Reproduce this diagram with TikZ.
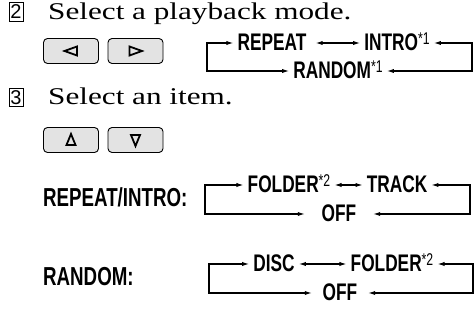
\documentclass[tikz,border=0pt]{standalone}
\usepackage{fontspec}
\setmainfont{Liberation Serif}[FakeStretch=1.3]
\newfontfamily\condfont{Liberation Sans}[FakeStretch=0.72]
\newfontfamily\numfont{Liberation Sans}
\usetikzlibrary{arrows.meta,calc}
\newcommand{\supnote}[1]{\raisebox{6pt}{\fontsize{17}{17}\selectfont\mdseries #1}}
\tikzset{
  item/.style={font=\condfont\bfseries\fontsize{24}{24}\selectfont, inner xsep=4pt, inner ysep=0pt, text height=14.3pt, text depth=0pt},
  lbl/.style={font=\condfont\bfseries\fontsize{26}{26}\selectfont, inner sep=0pt, text height=18.6pt, text depth=0pt, anchor=west},
  title/.style={font=\fontsize{24}{24}\selectfont, inner sep=0pt, anchor=base west},
  numbox/.style={draw, line width=0.5pt, minimum width=14pt, minimum height=18.5pt, inner sep=0pt, font=\numfont\fontsize{20}{20}\selectfont},
  btn/.style={draw, line width=0.9pt, rounded corners=4pt, fill=gray!22, minimum width=55pt, minimum height=25pt, inner sep=0pt},
  tri/.style={line width=1.8pt, line join=miter},
  conn/.style={line width=1.1pt, {Latex[length=7pt,width=4.2pt]}-{Latex[length=7pt,width=4.2pt]}}
}
\begin{document}
\begin{tikzpicture}[x=1pt,y=-1pt]
\useasboundingbox (0,0) rectangle (475,320);
% step 2
\node[numbox] (n2) at (16,12) {2};
\node[title] (t2) at (48,20) {Select a playback mode.};
\node[btn] (bl) at (71,51) {};
\node[btn] (br) at (135.5,51) {};
\draw[tri] ($(bl)+(-6.5,0)$) -- ($(bl)+(6,-4.5)$) -- ($(bl)+(6,4.5)$) -- cycle;
\draw[tri] ($(br)+(6.5,0)$) -- ($(br)+(-6,-4.5)$) -- ($(br)+(-6,4.5)$) -- cycle;
% diagram 1
\node[item] (rep) at (272,43) {REPEAT};
\node[item] (intro) at (397,43) {INTRO\supnote{*1}};
\node[item] (rnd) at (338,71) {RANDOM\supnote{*1}};
\coordinate (l1t) at (207,43);
\coordinate (l1b) at (207,71);
\coordinate (r1t) at (472,43);
\coordinate (r1b) at (472,71);
\draw[conn] (rep.west) -- (l1t) -- (l1b) -- (rnd.west);
\draw[conn] (intro.east) -- (r1t) -- (r1b) -- (rnd.east);
\draw[conn, shorten <=5pt] (rep.east) -- (intro.west);
% step 3
\node[numbox] (n3) at (16,97.5) {3};
\node[title] (t3) at (48,105) {Select an item.};
\node[btn] (bu) at (71,140) {};
\node[btn] (bd) at (135.5,140) {};
\draw[tri] ($(bu)+(0,-6)$) -- ($(bu)+(4.5,5)$) -- ($(bu)+(-4.5,5)$) -- cycle;
\draw[tri] ($(bd)+(0,6)$) -- ($(bd)+(4.5,-5)$) -- ($(bd)+(-4.5,-5)$) -- cycle;
% diagram 2
\node[lbl] (lri) at (43,197) {REPEAT/INTRO:};
\node[item] (fo1) at (289,185) {FOLDER\supnote{*2}};
\node[item] (trk) at (397,185) {TRACK};
\node[item, minimum width=68pt] (off1) at (339,214) {OFF};
\coordinate (l2t) at (205,185);
\coordinate (l2b) at (205,214);
\coordinate (r2t) at (470,185);
\coordinate (r2b) at (470,214);
\draw[conn] (fo1.west) -- (l2t) -- (l2b) -- (off1.west);
\draw[conn] (trk.east) -- (r2t) -- (r2b) -- (off1.east);
\draw[conn] (fo1.east) -- (trk.west);
% diagram 3
\node[lbl] (lrd) at (43,276) {RANDOM:};
\node[item] (disc) at (274,264) {DISC};
\node[item] (fo2) at (392,264) {FOLDER\supnote{*2}};
\node[item, minimum width=56pt] (off2) at (340,293) {OFF};
\coordinate (l3t) at (209,264);
\coordinate (l3b) at (209,293);
\coordinate (r3t) at (473,264);
\coordinate (r3b) at (473,293);
\draw[conn] (disc.west) -- (l3t) -- (l3b) -- (off2.west);
\draw[conn] (fo2.east) -- (r3t) -- (r3b) -- (off2.east);
\draw[conn] (disc.east) -- (fo2.west);
\end{tikzpicture}
\end{document}
